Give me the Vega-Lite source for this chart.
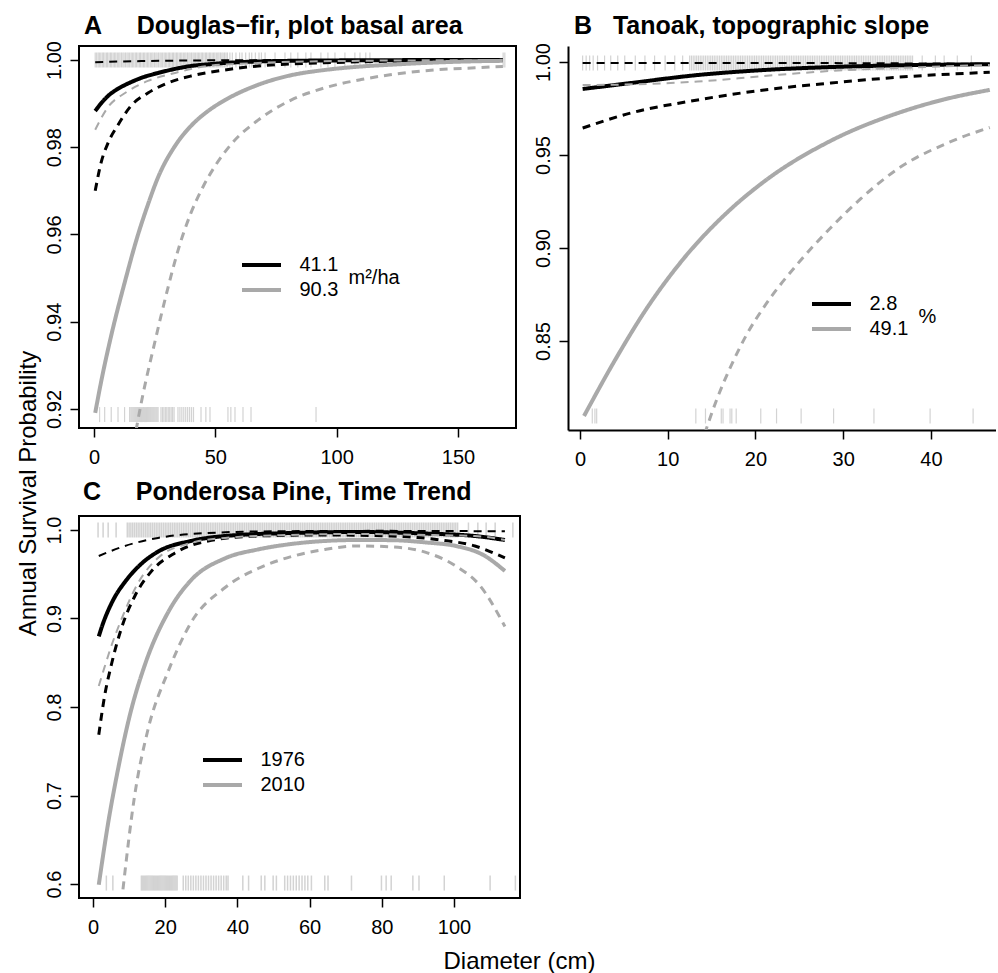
{
"$schema":"https://vega.github.io/schema/vega-lite/v6.json",
"background":"white",
"padding":{"left":16,"top":12,"right":0,"bottom":3},
"title":{"text":"Annual Survival Probability","orient":"left","anchor":"middle","fontSize":24,"fontWeight":"normal","offset":-17,"baseline":"alphabetic","color":"black"},
"datasets":{
"Acur":[
{"d":0.5,"p":0.9883,"g":"41.1","s":"est"},{"d":3,"p":0.9901,"g":"41.1","s":"est"},{"d":5.8,"p":0.99175,"g":"41.1","s":"est"},{"d":9,"p":0.9931,"g":"41.1","s":"est"},{"d":12.8,"p":0.99427,"g":"41.1","s":"est"},{"d":16,"p":0.9951,"g":"41.1","s":"est"},{"d":19.4,"p":0.99587,"g":"41.1","s":"est"},{"d":26.4,"p":0.99702,"g":"41.1","s":"est"},{"d":33,"p":0.9979,"g":"41.1","s":"est"},{"d":40,"p":0.99862,"g":"41.1","s":"est"},{"d":47,"p":0.999,"g":"41.1","s":"est"},{"d":54,"p":0.99931,"g":"41.1","s":"est"},{"d":67.6,"p":0.99965,"g":"41.1","s":"est"},{"d":81,"p":0.9998,"g":"41.1","s":"est"},{"d":95,"p":0.99988,"g":"41.1","s":"est"},{"d":120,"p":0.99995,"g":"41.1","s":"est"},{"d":145,"p":0.99998,"g":"41.1","s":"est"},{"d":168.5,"p":0.99999,"g":"41.1","s":"est"},
{"d":0.5,"p":0.97,"g":"41.1","s":"lo"},{"d":2.9,"p":0.9764,"g":"41.1","s":"lo"},{"d":5.8,"p":0.981,"g":"41.1","s":"lo"},{"d":9.9,"p":0.9851,"g":"41.1","s":"lo"},{"d":15.2,"p":0.98945,"g":"41.1","s":"lo"},{"d":22.2,"p":0.99243,"g":"41.1","s":"lo"},{"d":30.5,"p":0.99473,"g":"41.1","s":"lo"},{"d":40,"p":0.99633,"g":"41.1","s":"lo"},{"d":54,"p":0.99771,"g":"41.1","s":"lo"},{"d":67.6,"p":0.99862,"g":"41.1","s":"lo"},{"d":81,"p":0.9991,"g":"41.1","s":"lo"},{"d":95,"p":0.99935,"g":"41.1","s":"lo"},{"d":120,"p":0.9997,"g":"41.1","s":"lo"},{"d":145,"p":0.99985,"g":"41.1","s":"lo"},{"d":168.5,"p":0.9999,"g":"41.1","s":"lo"},
{"d":0.5,"p":0.9995,"g":"41.1","s":"hi"},{"d":10,"p":0.99965,"g":"41.1","s":"hi"},{"d":20,"p":0.99975,"g":"41.1","s":"hi"},{"d":35,"p":0.99985,"g":"41.1","s":"hi"},{"d":50,"p":0.99992,"g":"41.1","s":"hi"},{"d":80,"p":0.99997,"g":"41.1","s":"hi"},{"d":120,"p":0.99999,"g":"41.1","s":"hi"},{"d":168.5,"p":1,"g":"41.1","s":"hi"},
{"d":0.5,"p":0.9191,"g":"90.3","s":"est"},{"d":3,"p":0.9264,"g":"90.3","s":"est"},{"d":7,"p":0.9366,"g":"90.3","s":"est"},{"d":12.8,"p":0.9493,"g":"90.3","s":"est"},{"d":18,"p":0.9597,"g":"90.3","s":"est"},{"d":22.2,"p":0.9668,"g":"90.3","s":"est"},{"d":26.4,"p":0.9731,"g":"90.3","s":"est"},{"d":33.4,"p":0.9803,"g":"90.3","s":"est"},{"d":40,"p":0.9849,"g":"90.3","s":"est"},{"d":47,"p":0.9883,"g":"90.3","s":"est"},{"d":54,"p":0.9908,"g":"90.3","s":"est"},{"d":67.6,"p":0.9943,"g":"90.3","s":"est"},{"d":81.2,"p":0.9965,"g":"90.3","s":"est"},{"d":95,"p":0.9977,"g":"90.3","s":"est"},{"d":110,"p":0.9985,"g":"90.3","s":"est"},{"d":122,"p":0.9989,"g":"90.3","s":"est"},{"d":140,"p":0.9994,"g":"90.3","s":"est"},{"d":157,"p":0.9997,"g":"90.3","s":"est"},{"d":168.5,"p":0.9998,"g":"90.3","s":"est"},
{"d":17.3,"p":0.915,"g":"90.3","s":"lo"},{"d":19.4,"p":0.9212,"g":"90.3","s":"lo"},{"d":25.1,"p":0.9354,"g":"90.3","s":"lo"},{"d":30.5,"p":0.9478,"g":"90.3","s":"lo"},{"d":34.6,"p":0.9563,"g":"90.3","s":"lo"},{"d":40,"p":0.965,"g":"90.3","s":"lo"},{"d":45,"p":0.971,"g":"90.3","s":"lo"},{"d":49.9,"p":0.9757,"g":"90.3","s":"lo"},{"d":56.4,"p":0.9806,"g":"90.3","s":"lo"},{"d":67.6,"p":0.9862,"g":"90.3","s":"lo"},{"d":81.2,"p":0.9908,"g":"90.3","s":"lo"},{"d":95,"p":0.9936,"g":"90.3","s":"lo"},{"d":110,"p":0.9955,"g":"90.3","s":"lo"},{"d":122,"p":0.9966,"g":"90.3","s":"lo"},{"d":140,"p":0.9977,"g":"90.3","s":"lo"},{"d":157,"p":0.9982,"g":"90.3","s":"lo"},{"d":168.5,"p":0.9985,"g":"90.3","s":"lo"},
{"d":0.5,"p":0.984,"g":"90.3","s":"hi"},{"d":5.8,"p":0.9892,"g":"90.3","s":"hi"},{"d":12.8,"p":0.99243,"g":"90.3","s":"hi"},{"d":22.2,"p":0.99519,"g":"90.3","s":"hi"},{"d":33.4,"p":0.99702,"g":"90.3","s":"hi"},{"d":47,"p":0.99862,"g":"90.3","s":"hi"},{"d":67.6,"p":0.99931,"g":"90.3","s":"hi"},{"d":100,"p":0.99975,"g":"90.3","s":"hi"},{"d":168.5,"p":0.99998,"g":"90.3","s":"hi"}
],
"Arug":[
{"d":0.5,"p":1},{"d":1.1,"p":1},{"d":1.7,"p":1},{"d":2.2,"p":1},{"d":2.8,"p":1},{"d":3.4,"p":1},{"d":3.9,"p":1},{"d":4.5,"p":1},{"d":5.1,"p":1},{"d":5.6,"p":1},{"d":6.2,"p":1},{"d":6.8,"p":1},{"d":7.3,"p":1},{"d":7.9,"p":1},{"d":8.5,"p":1},{"d":9,"p":1},{"d":9.6,"p":1},{"d":10.2,"p":1},{"d":10.7,"p":1},{"d":11.3,"p":1},{"d":11.9,"p":1},{"d":12.4,"p":1},{"d":13,"p":1},{"d":13.6,"p":1},{"d":14.1,"p":1},{"d":14.7,"p":1},{"d":15.3,"p":1},{"d":15.8,"p":1},{"d":16.4,"p":1},{"d":17,"p":1},{"d":17.5,"p":1},{"d":18.1,"p":1},{"d":18.7,"p":1},{"d":19.2,"p":1},{"d":19.8,"p":1},{"d":20.4,"p":1},{"d":20.9,"p":1},{"d":21.5,"p":1},{"d":22.1,"p":1},{"d":22.6,"p":1},{"d":23.2,"p":1},{"d":23.8,"p":1},{"d":24.3,"p":1},{"d":24.9,"p":1},{"d":25.5,"p":1},{"d":26,"p":1},{"d":26.6,"p":1},{"d":27.2,"p":1},{"d":27.7,"p":1},{"d":28.3,"p":1},{"d":28.9,"p":1},{"d":29.4,"p":1},{"d":30,"p":1},{"d":30.6,"p":1},{"d":31.1,"p":1},{"d":31.7,"p":1},{"d":32.3,"p":1},{"d":32.8,"p":1},{"d":33.4,"p":1},{"d":34,"p":1},{"d":34.5,"p":1},{"d":35.1,"p":1},{"d":35.7,"p":1},{"d":36.2,"p":1},{"d":36.8,"p":1},{"d":37.4,"p":1},{"d":37.9,"p":1},{"d":38.5,"p":1},{"d":39.1,"p":1},{"d":39.6,"p":1},{"d":40.2,"p":1},{"d":40.8,"p":1},{"d":41.3,"p":1},{"d":41.9,"p":1},{"d":42.5,"p":1},{"d":43,"p":1},{"d":43.6,"p":1},{"d":44.2,"p":1},{"d":44.7,"p":1},{"d":45.3,"p":1},{"d":45.9,"p":1},{"d":46.4,"p":1},{"d":47,"p":1},{"d":47.6,"p":1},{"d":48.1,"p":1},{"d":48.7,"p":1},{"d":49.3,"p":1},{"d":49.8,"p":1},{"d":50.4,"p":1},{"d":51,"p":1},{"d":51.5,"p":1},{"d":52.1,"p":1},{"d":52.7,"p":1},{"d":53.2,"p":1},{"d":53.8,"p":1},{"d":54.4,"p":1},{"d":55,"p":1},{"d":56,"p":1},{"d":57,"p":1},{"d":58.5,"p":1},{"d":60,"p":1},{"d":61,"p":1},{"d":62.5,"p":1},{"d":64,"p":1},{"d":65,"p":1},{"d":66.5,"p":1},{"d":68,"p":1},{"d":69,"p":1},{"d":70.5,"p":1},{"d":74.6,"p":1},{"d":78.7,"p":1},{"d":81.1,"p":1},{"d":84,"p":1},{"d":87.3,"p":1},{"d":89.4,"p":1},{"d":93.5,"p":1},{"d":96.4,"p":1},{"d":99.3,"p":1},{"d":103.4,"p":1},{"d":107.5,"p":1},{"d":109.6,"p":1},{"d":112,"p":1},{"d":113.7,"p":1},{"d":168.6,"p":1},{"d":169.3,"p":1},
{"d":2.3,"p":0.9187},{"d":4.4,"p":0.9187},{"d":7.1,"p":0.9187},{"d":9.9,"p":0.9187},{"d":12.6,"p":0.9187},{"d":14.7,"p":0.9187},{"d":15.2,"p":0.9187},{"d":15.6,"p":0.9187},{"d":16,"p":0.9187},{"d":16.4,"p":0.9187},{"d":16.8,"p":0.9187},{"d":17.2,"p":0.9187},{"d":17.6,"p":0.9187},{"d":18,"p":0.9187},{"d":18.4,"p":0.9187},{"d":18.8,"p":0.9187},{"d":19.2,"p":0.9187},{"d":19.6,"p":0.9187},{"d":20,"p":0.9187},{"d":20.4,"p":0.9187},{"d":20.8,"p":0.9187},{"d":21.2,"p":0.9187},{"d":21.6,"p":0.9187},{"d":22,"p":0.9187},{"d":22.4,"p":0.9187},{"d":22.8,"p":0.9187},{"d":23.2,"p":0.9187},{"d":23.6,"p":0.9187},{"d":24,"p":0.9187},{"d":24.4,"p":0.9187},{"d":24.8,"p":0.9187},{"d":25.2,"p":0.9187},{"d":25.6,"p":0.9187},{"d":26,"p":0.9187},{"d":26.4,"p":0.9187},{"d":27.6,"p":0.9187},{"d":28.2,"p":0.9187},{"d":28.8,"p":0.9187},{"d":29.4,"p":0.9187},{"d":30,"p":0.9187},{"d":30.6,"p":0.9187},{"d":31.2,"p":0.9187},{"d":31.8,"p":0.9187},{"d":32.4,"p":0.9187},{"d":33,"p":0.9187},{"d":34.6,"p":0.9187},{"d":35.4,"p":0.9187},{"d":36.2,"p":0.9187},{"d":37,"p":0.9187},{"d":37.8,"p":0.9187},{"d":38.6,"p":0.9187},{"d":39.4,"p":0.9187},{"d":40.2,"p":0.9187},{"d":41,"p":0.9187},{"d":44.1,"p":0.9187},{"d":46.1,"p":0.9187},{"d":47.8,"p":0.9187},{"d":55.2,"p":0.9187},{"d":56.4,"p":0.9187},{"d":58.1,"p":0.9187},{"d":61.4,"p":0.9187},{"d":64.7,"p":0.9187},{"d":91.5,"p":0.9187}
],
"Bcur":[
{"d":0.3,"p":0.9855,"g":"2.8","s":"est"},{"d":5.8,"p":0.9887,"g":"2.8","s":"est"},{"d":13.4,"p":0.993,"g":"2.8","s":"est"},{"d":21,"p":0.9957,"g":"2.8","s":"est"},{"d":28.6,"p":0.9973,"g":"2.8","s":"est"},{"d":36.2,"p":0.9982,"g":"2.8","s":"est"},{"d":41.5,"p":0.9986,"g":"2.8","s":"est"},{"d":46.7,"p":0.9988,"g":"2.8","s":"est"},
{"d":0.3,"p":0.9645,"g":"2.8","s":"lo"},{"d":5.8,"p":0.9726,"g":"2.8","s":"lo"},{"d":13.4,"p":0.9796,"g":"2.8","s":"lo"},{"d":21,"p":0.985,"g":"2.8","s":"lo"},{"d":28.6,"p":0.9887,"g":"2.8","s":"lo"},{"d":36.2,"p":0.9918,"g":"2.8","s":"lo"},{"d":46.7,"p":0.9945,"g":"2.8","s":"lo"},
{"d":0.3,"p":0.9995,"g":"2.8","s":"hi"},{"d":20,"p":0.9995,"g":"2.8","s":"hi"},{"d":35,"p":0.9993,"g":"2.8","s":"hi"},{"d":46.7,"p":0.999,"g":"2.8","s":"hi"},
{"d":0.46,"p":0.8097,"g":"49.1","s":"est"},{"d":4,"p":0.8398,"g":"49.1","s":"est"},{"d":7.7,"p":0.8682,"g":"49.1","s":"est"},{"d":11.5,"p":0.8925,"g":"49.1","s":"est"},{"d":17.2,"p":0.921,"g":"49.1","s":"est"},{"d":21,"p":0.9358,"g":"49.1","s":"est"},{"d":28.6,"p":0.9577,"g":"49.1","s":"est"},{"d":36.2,"p":0.9725,"g":"49.1","s":"est"},{"d":41.5,"p":0.9799,"g":"49.1","s":"est"},{"d":46.7,"p":0.985,"g":"49.1","s":"est"},
{"d":14.2,"p":0.8,"g":"49.1","s":"lo"},{"d":15.5,"p":0.8175,"g":"49.1","s":"lo"},{"d":17.2,"p":0.8365,"g":"49.1","s":"lo"},{"d":19,"p":0.8535,"g":"49.1","s":"lo"},{"d":21,"p":0.8685,"g":"49.1","s":"lo"},{"d":24.8,"p":0.8915,"g":"49.1","s":"lo"},{"d":28.6,"p":0.911,"g":"49.1","s":"lo"},{"d":32,"p":0.9265,"g":"49.1","s":"lo"},{"d":36.2,"p":0.9425,"g":"49.1","s":"lo"},{"d":41.9,"p":0.9565,"g":"49.1","s":"lo"},{"d":46.7,"p":0.9648,"g":"49.1","s":"lo"},
{"d":0.3,"p":0.9876,"g":"49.1","s":"hi"},{"d":6,"p":0.988,"g":"49.1","s":"hi"},{"d":13.4,"p":0.9895,"g":"49.1","s":"hi"},{"d":21,"p":0.9925,"g":"49.1","s":"hi"},{"d":28.6,"p":0.9952,"g":"49.1","s":"hi"},{"d":36.2,"p":0.9968,"g":"49.1","s":"hi"},{"d":46.7,"p":0.9984,"g":"49.1","s":"hi"}
],
"Brug":[
{"d":0.3,"p":0.99946},{"d":0.7,"p":0.99946},{"d":1.1,"p":0.99946},{"d":1.5,"p":0.99946},{"d":2,"p":0.99946},{"d":2.8,"p":0.99946},{"d":3.5,"p":0.99946},{"d":4.3,"p":0.99946},{"d":5.1,"p":0.99946},{"d":6.3,"p":0.99946},{"d":7.4,"p":0.99946},{"d":8.5,"p":0.99946},{"d":9.7,"p":0.99946},{"d":10.8,"p":0.99946},{"d":11.7,"p":0.99946},
{"d":12.5,"p":0.99946},{"d":12.7,"p":0.99946},{"d":12.9,"p":0.99946},{"d":13.1,"p":0.99946},{"d":13.3,"p":0.99946},{"d":13.5,"p":0.99946},{"d":13.7,"p":0.99946},{"d":13.9,"p":0.99946},{"d":14.1,"p":0.99946},{"d":14.3,"p":0.99946},{"d":14.5,"p":0.99946},{"d":14.7,"p":0.99946},{"d":14.9,"p":0.99946},{"d":15.1,"p":0.99946},{"d":15.3,"p":0.99946},{"d":15.5,"p":0.99946},{"d":15.7,"p":0.99946},{"d":15.9,"p":0.99946},{"d":16.1,"p":0.99946},{"d":16.3,"p":0.99946},{"d":16.5,"p":0.99946},{"d":16.7,"p":0.99946},{"d":16.9,"p":0.99946},{"d":17.1,"p":0.99946},{"d":17.3,"p":0.99946},{"d":17.5,"p":0.99946},{"d":17.7,"p":0.99946},{"d":17.9,"p":0.99946},{"d":18.1,"p":0.99946},{"d":18.3,"p":0.99946},{"d":18.5,"p":0.99946},{"d":18.7,"p":0.99946},{"d":18.9,"p":0.99946},{"d":19.1,"p":0.99946},{"d":19.3,"p":0.99946},{"d":19.5,"p":0.99946},{"d":19.7,"p":0.99946},{"d":19.9,"p":0.99946},{"d":20.1,"p":0.99946},{"d":20.3,"p":0.99946},{"d":20.5,"p":0.99946},{"d":20.7,"p":0.99946},{"d":20.9,"p":0.99946},{"d":21.1,"p":0.99946},{"d":21.3,"p":0.99946},{"d":21.5,"p":0.99946},{"d":21.7,"p":0.99946},{"d":21.9,"p":0.99946},{"d":22.1,"p":0.99946},{"d":22.3,"p":0.99946},{"d":22.5,"p":0.99946},{"d":22.7,"p":0.99946},{"d":22.9,"p":0.99946},{"d":23.1,"p":0.99946},{"d":23.3,"p":0.99946},{"d":23.5,"p":0.99946},{"d":23.7,"p":0.99946},{"d":23.9,"p":0.99946},{"d":24.1,"p":0.99946},{"d":24.3,"p":0.99946},{"d":24.5,"p":0.99946},{"d":24.7,"p":0.99946},{"d":24.9,"p":0.99946},{"d":25.1,"p":0.99946},{"d":25.3,"p":0.99946},{"d":25.5,"p":0.99946},{"d":25.7,"p":0.99946},{"d":25.9,"p":0.99946},{"d":26.1,"p":0.99946},{"d":26.3,"p":0.99946},{"d":26.5,"p":0.99946},{"d":26.7,"p":0.99946},{"d":26.9,"p":0.99946},{"d":27.1,"p":0.99946},{"d":27.3,"p":0.99946},{"d":27.5,"p":0.99946},{"d":27.7,"p":0.99946},{"d":27.9,"p":0.99946},{"d":28.1,"p":0.99946},{"d":28.3,"p":0.99946},{"d":28.5,"p":0.99946},{"d":28.7,"p":0.99946},{"d":28.9,"p":0.99946},{"d":29.1,"p":0.99946},{"d":29.3,"p":0.99946},{"d":29.5,"p":0.99946},{"d":29.7,"p":0.99946},{"d":29.9,"p":0.99946},{"d":30.1,"p":0.99946},{"d":30.3,"p":0.99946},{"d":30.5,"p":0.99946},{"d":30.7,"p":0.99946},{"d":30.9,"p":0.99946},{"d":31.1,"p":0.99946},{"d":31.3,"p":0.99946},{"d":31.5,"p":0.99946},{"d":31.7,"p":0.99946},{"d":31.9,"p":0.99946},{"d":32.1,"p":0.99946},{"d":32.3,"p":0.99946},{"d":32.5,"p":0.99946},{"d":32.7,"p":0.99946},{"d":32.9,"p":0.99946},{"d":33.1,"p":0.99946},{"d":33.3,"p":0.99946},{"d":33.5,"p":0.99946},{"d":33.7,"p":0.99946},{"d":33.9,"p":0.99946},{"d":34.1,"p":0.99946},{"d":34.3,"p":0.99946},{"d":34.5,"p":0.99946},{"d":34.7,"p":0.99946},{"d":34.9,"p":0.99946},{"d":35.1,"p":0.99946},{"d":35.3,"p":0.99946},{"d":35.5,"p":0.99946},{"d":35.7,"p":0.99946},{"d":35.9,"p":0.99946},{"d":36.1,"p":0.99946},{"d":36.3,"p":0.99946},{"d":36.5,"p":0.99946},{"d":36.7,"p":0.99946},{"d":36.9,"p":0.99946},{"d":37.1,"p":0.99946},{"d":37.3,"p":0.99946},{"d":37.5,"p":0.99946},{"d":37.7,"p":0.99946},{"d":37.9,"p":0.99946},
{"d":39,"p":0.99946},{"d":40.5,"p":0.99946},{"d":41.5,"p":0.99946},{"d":43,"p":0.99946},{"d":44.6,"p":0.99946},
{"d":1.4,"p":0.8097},{"d":1.7,"p":0.8097},{"d":1.9,"p":0.8097},{"d":13.2,"p":0.8097},{"d":14.3,"p":0.8097},{"d":16.1,"p":0.8097},{"d":16.3,"p":0.8097},{"d":17.1,"p":0.8097},{"d":17.3,"p":0.8097},{"d":17.8,"p":0.8097},{"d":20.6,"p":0.8097},{"d":22.4,"p":0.8097},{"d":25.2,"p":0.8097},{"d":28.9,"p":0.8097},{"d":33.5,"p":0.8097},{"d":39.9,"p":0.8097},{"d":44.8,"p":0.8097}
],
"Ccur":[
{"d":1.6,"p":0.8799,"g":"1976","s":"est"},{"d":3,"p":0.897,"g":"1976","s":"est"},{"d":4.2,"p":0.909,"g":"1976","s":"est"},{"d":6,"p":0.924,"g":"1976","s":"est"},{"d":8.8,"p":0.941,"g":"1976","s":"est"},{"d":13.3,"p":0.9615,"g":"1976","s":"est"},{"d":18,"p":0.9755,"g":"1976","s":"est"},{"d":27.1,"p":0.9876,"g":"1976","s":"est"},{"d":36.6,"p":0.9932,"g":"1976","s":"est"},{"d":54.8,"p":0.9966,"g":"1976","s":"est"},{"d":73.4,"p":0.9977,"g":"1976","s":"est"},{"d":92,"p":0.996,"g":"1976","s":"est"},{"d":105.8,"p":0.9932,"g":"1976","s":"est"},{"d":114.1,"p":0.9887,"g":"1976","s":"est"},
{"d":1.6,"p":0.7687,"g":"1976","s":"lo"},{"d":3.2,"p":0.8121,"g":"1976","s":"lo"},{"d":5.1,"p":0.848,"g":"1976","s":"lo"},{"d":7.8,"p":0.888,"g":"1976","s":"lo"},{"d":11.6,"p":0.9254,"g":"1976","s":"lo"},{"d":16.1,"p":0.953,"g":"1976","s":"lo"},{"d":22.7,"p":0.974,"g":"1976","s":"lo"},{"d":31.9,"p":0.9876,"g":"1976","s":"lo"},{"d":45.7,"p":0.9932,"g":"1976","s":"lo"},{"d":64.3,"p":0.9944,"g":"1976","s":"lo"},{"d":82.5,"p":0.9932,"g":"1976","s":"lo"},{"d":96.4,"p":0.9887,"g":"1976","s":"lo"},{"d":105.8,"p":0.9819,"g":"1976","s":"lo"},{"d":114.1,"p":0.9684,"g":"1976","s":"lo"},
{"d":1.6,"p":0.9706,"g":"1976","s":"hi"},{"d":8.8,"p":0.9819,"g":"1976","s":"hi"},{"d":18,"p":0.991,"g":"1976","s":"hi"},{"d":31.9,"p":0.9966,"g":"1976","s":"hi"},{"d":50,"p":0.9985,"g":"1976","s":"hi"},{"d":80,"p":0.999,"g":"1976","s":"hi"},{"d":100,"p":0.9988,"g":"1976","s":"hi"},{"d":114.1,"p":0.9985,"g":"1976","s":"hi"},
{"d":1.6,"p":0.5992,"g":"2010","s":"est"},{"d":4.2,"p":0.669,"g":"2010","s":"est"},{"d":6.9,"p":0.729,"g":"2010","s":"est"},{"d":10.1,"p":0.789,"g":"2010","s":"est"},{"d":14.4,"p":0.848,"g":"2010","s":"est"},{"d":20.8,"p":0.907,"g":"2010","s":"est"},{"d":27.1,"p":0.943,"g":"2010","s":"est"},{"d":36.6,"p":0.968,"g":"2010","s":"est"},{"d":45.7,"p":0.978,"g":"2010","s":"est"},{"d":55,"p":0.9842,"g":"2010","s":"est"},{"d":64.3,"p":0.9876,"g":"2010","s":"est"},{"d":73.4,"p":0.9887,"g":"2010","s":"est"},{"d":82.5,"p":0.9885,"g":"2010","s":"est"},{"d":92,"p":0.986,"g":"2010","s":"est"},{"d":101,"p":0.9815,"g":"2010","s":"est"},{"d":108,"p":0.972,"g":"2010","s":"est"},{"d":114.1,"p":0.9537,"g":"2010","s":"est"},
{"d":8.3,"p":0.594,"g":"2010","s":"lo"},{"d":11.5,"p":0.699,"g":"2010","s":"lo"},{"d":15.2,"p":0.774,"g":"2010","s":"lo"},{"d":20.8,"p":0.84,"g":"2010","s":"lo"},{"d":27.1,"p":0.895,"g":"2010","s":"lo"},{"d":36.6,"p":0.935,"g":"2010","s":"lo"},{"d":45.7,"p":0.9565,"g":"2010","s":"lo"},{"d":55,"p":0.97,"g":"2010","s":"lo"},{"d":64.3,"p":0.978,"g":"2010","s":"lo"},{"d":73.4,"p":0.982,"g":"2010","s":"lo"},{"d":82.5,"p":0.981,"g":"2010","s":"lo"},{"d":92,"p":0.975,"g":"2010","s":"lo"},{"d":101,"p":0.958,"g":"2010","s":"lo"},{"d":107,"p":0.938,"g":"2010","s":"lo"},{"d":114.1,"p":0.891,"g":"2010","s":"lo"},
{"d":1.6,"p":0.8237,"g":"2010","s":"hi"},{"d":3.2,"p":0.845,"g":"2010","s":"hi"},{"d":5,"p":0.868,"g":"2010","s":"hi"},{"d":7.8,"p":0.8983,"g":"2010","s":"hi"},{"d":12.5,"p":0.9401,"g":"2010","s":"hi"},{"d":18,"p":0.9684,"g":"2010","s":"hi"},{"d":27.1,"p":0.9853,"g":"2010","s":"hi"},{"d":36.6,"p":0.991,"g":"2010","s":"hi"},{"d":54.8,"p":0.9944,"g":"2010","s":"hi"},{"d":73.4,"p":0.9955,"g":"2010","s":"hi"},{"d":92,"p":0.9944,"g":"2010","s":"hi"},{"d":105.8,"p":0.9932,"g":"2010","s":"hi"},{"d":114.1,"p":0.9887,"g":"2010","s":"hi"}
],
"Crug":[
{"d":1.4,"p":1},{"d":2.8,"p":1},{"d":4.2,"p":1},{"d":6.4,"p":1},
{"d":9.5,"p":1},{"d":10,"p":1},{"d":10.5,"p":1},{"d":11,"p":1},{"d":11.5,"p":1},{"d":12,"p":1},{"d":12.5,"p":1},{"d":13,"p":1},{"d":13.5,"p":1},{"d":14,"p":1},{"d":14.5,"p":1},{"d":15,"p":1},{"d":15.5,"p":1},{"d":16,"p":1},{"d":16.5,"p":1},{"d":17,"p":1},{"d":17.5,"p":1},{"d":18,"p":1},{"d":18.5,"p":1},{"d":19,"p":1},{"d":19.5,"p":1},{"d":20,"p":1},{"d":20.5,"p":1},{"d":21,"p":1},{"d":21.5,"p":1},{"d":22,"p":1},{"d":22.5,"p":1},{"d":23,"p":1},{"d":23.5,"p":1},{"d":24,"p":1},{"d":24.5,"p":1},{"d":25,"p":1},{"d":25.5,"p":1},{"d":26,"p":1},{"d":26.5,"p":1},{"d":27,"p":1},{"d":27.5,"p":1},{"d":28,"p":1},{"d":28.5,"p":1},{"d":29,"p":1},{"d":29.5,"p":1},{"d":30,"p":1},{"d":30.5,"p":1},{"d":31,"p":1},{"d":31.5,"p":1},{"d":32,"p":1},{"d":32.5,"p":1},{"d":33,"p":1},{"d":33.5,"p":1},{"d":34,"p":1},{"d":34.5,"p":1},{"d":35,"p":1},{"d":35.5,"p":1},{"d":36,"p":1},{"d":36.5,"p":1},{"d":37,"p":1},{"d":37.5,"p":1},{"d":38,"p":1},{"d":38.5,"p":1},{"d":39,"p":1},{"d":39.5,"p":1},{"d":40,"p":1},{"d":40.5,"p":1},{"d":41,"p":1},{"d":41.5,"p":1},{"d":42,"p":1},{"d":42.5,"p":1},{"d":43,"p":1},{"d":43.5,"p":1},{"d":44,"p":1},{"d":44.5,"p":1},{"d":45,"p":1},{"d":45.5,"p":1},{"d":46,"p":1},{"d":46.5,"p":1},{"d":47,"p":1},{"d":47.5,"p":1},{"d":48,"p":1},{"d":48.5,"p":1},{"d":49,"p":1},{"d":49.5,"p":1},{"d":50,"p":1},{"d":50.5,"p":1},{"d":51,"p":1},{"d":51.5,"p":1},{"d":52,"p":1},{"d":52.5,"p":1},{"d":53,"p":1},{"d":53.5,"p":1},{"d":54,"p":1},{"d":54.5,"p":1},{"d":55,"p":1},{"d":55.5,"p":1},{"d":56,"p":1},{"d":56.5,"p":1},{"d":57,"p":1},{"d":57.5,"p":1},{"d":58,"p":1},{"d":58.5,"p":1},{"d":59,"p":1},{"d":59.5,"p":1},{"d":60,"p":1},{"d":60.5,"p":1},{"d":61,"p":1},{"d":61.5,"p":1},{"d":62,"p":1},{"d":62.5,"p":1},{"d":63,"p":1},{"d":63.5,"p":1},{"d":64,"p":1},{"d":64.5,"p":1},{"d":65,"p":1},{"d":65.5,"p":1},{"d":66,"p":1},{"d":66.5,"p":1},{"d":67,"p":1},{"d":67.5,"p":1},{"d":68,"p":1},{"d":68.5,"p":1},{"d":69,"p":1},{"d":69.5,"p":1},{"d":70,"p":1},{"d":70.5,"p":1},{"d":71,"p":1},{"d":71.5,"p":1},{"d":72,"p":1},{"d":72.5,"p":1},{"d":73,"p":1},{"d":73.5,"p":1},{"d":74,"p":1},{"d":74.5,"p":1},{"d":75,"p":1},{"d":75.5,"p":1},{"d":76,"p":1},{"d":76.5,"p":1},{"d":77,"p":1},{"d":77.5,"p":1},{"d":78,"p":1},{"d":78.5,"p":1},{"d":79,"p":1},{"d":79.5,"p":1},{"d":80,"p":1},{"d":80.5,"p":1},{"d":81,"p":1},{"d":81.5,"p":1},{"d":82,"p":1},{"d":82.5,"p":1},{"d":83,"p":1},{"d":83.5,"p":1},{"d":84,"p":1},{"d":84.5,"p":1},{"d":85,"p":1},{"d":85.5,"p":1},{"d":86,"p":1},{"d":86.5,"p":1},{"d":87,"p":1},{"d":87.5,"p":1},{"d":88,"p":1},{"d":88.5,"p":1},{"d":89,"p":1},{"d":89.5,"p":1},{"d":90,"p":1},{"d":90.5,"p":1},{"d":91,"p":1},{"d":91.5,"p":1},{"d":92,"p":1},{"d":92.5,"p":1},{"d":93,"p":1},{"d":93.5,"p":1},{"d":94,"p":1},{"d":94.5,"p":1},{"d":95,"p":1},{"d":95.5,"p":1},{"d":96,"p":1},{"d":96.5,"p":1},{"d":97,"p":1},{"d":97.5,"p":1},{"d":98,"p":1},{"d":98.5,"p":1},{"d":99,"p":1},{"d":99.5,"p":1},{"d":100,"p":1},{"d":100.5,"p":1},{"d":101,"p":1},
{"d":104,"p":1},{"d":106.6,"p":1},{"d":108.9,"p":1},{"d":111.4,"p":1},{"d":116.3,"p":1},
{"d":3.7,"p":0.6011},{"d":5.5,"p":0.6011},{"d":13.4,"p":0.6011},{"d":13.7,"p":0.6011},{"d":14,"p":0.6011},{"d":14.3,"p":0.6011},{"d":14.6,"p":0.6011},{"d":14.9,"p":0.6011},{"d":15.2,"p":0.6011},{"d":15.5,"p":0.6011},{"d":15.8,"p":0.6011},{"d":16.1,"p":0.6011},{"d":16.4,"p":0.6011},{"d":16.7,"p":0.6011},{"d":17,"p":0.6011},{"d":17.3,"p":0.6011},{"d":17.6,"p":0.6011},{"d":17.9,"p":0.6011},{"d":18.2,"p":0.6011},{"d":18.5,"p":0.6011},{"d":18.8,"p":0.6011},{"d":19.1,"p":0.6011},{"d":19.4,"p":0.6011},{"d":19.7,"p":0.6011},{"d":20,"p":0.6011},{"d":20.3,"p":0.6011},{"d":20.6,"p":0.6011},{"d":20.9,"p":0.6011},{"d":21.2,"p":0.6011},{"d":21.5,"p":0.6011},{"d":21.8,"p":0.6011},{"d":22.1,"p":0.6011},{"d":22.4,"p":0.6011},{"d":22.7,"p":0.6011},{"d":23,"p":0.6011},{"d":23.3,"p":0.6011},{"d":25,"p":0.6011},{"d":25.7,"p":0.6011},{"d":26.4,"p":0.6011},{"d":27.1,"p":0.6011},{"d":27.8,"p":0.6011},{"d":28.5,"p":0.6011},{"d":29.2,"p":0.6011},{"d":29.9,"p":0.6011},{"d":30.6,"p":0.6011},{"d":31.3,"p":0.6011},{"d":32,"p":0.6011},{"d":32.7,"p":0.6011},{"d":33.4,"p":0.6011},{"d":34.1,"p":0.6011},{"d":34.8,"p":0.6011},{"d":35.5,"p":0.6011},{"d":36.2,"p":0.6011},{"d":36.9,"p":0.6011},{"d":37.4,"p":0.6011},{"d":41.5,"p":0.6011},{"d":43.1,"p":0.6011},{"d":46.6,"p":0.6011},{"d":47.6,"p":0.6011},{"d":49.9,"p":0.6011},{"d":50.8,"p":0.6011},{"d":53.1,"p":0.6011},{"d":53.9,"p":0.6011},{"d":54.7,"p":0.6011},{"d":55.5,"p":0.6011},{"d":56.3,"p":0.6011},{"d":57.1,"p":0.6011},{"d":57.9,"p":0.6011},{"d":58.7,"p":0.6011},{"d":59.5,"p":0.6011},{"d":60.5,"p":0.6011},{"d":64.2,"p":0.6011},{"d":65.1,"p":0.6011},{"d":71.6,"p":0.6011},{"d":79.9,"p":0.6011},{"d":81.2,"p":0.6011},{"d":82.6,"p":0.6011},{"d":88.6,"p":0.6011},{"d":90.3,"p":0.6011},{"d":97.3,"p":0.6011},{"d":110,"p":0.6011},{"d":117,"p":0.6011}
]
},
"concat":[
{
"width":437,"height":382,
"title":{"text":"A\u00a0\u00a0\u00a0\u00a0\u00a0Douglas−fir, plot basal area","anchor":"start","frame":"group","dx":5,"offset":-18.5,"baseline":"alphabetic"},
"encoding":{
"x":{"field":"d","type":"quantitative","title":null,"scale":{"domain":[-6.18,173.9],"nice":false,"zero":false},"axis":{"values":[0,50,100,150]}},
"y":{"field":"p","type":"quantitative","title":null,"scale":{"domain":[0.91563,1.0032],"nice":false,"zero":false},"axis":{"values":[0.92,0.94,0.96,0.98,1.0],"format":".2f"}}
},
"layer":[
{"data":{"name":"Arug"},"mark":{"type":"tick","orient":"vertical","size":15,"thickness":1.2,"color":"#d3d3d3","opacity":1}},
{"data":{"name":"Acur"},"mark":{"type":"line","clip":true,"interpolate":"monotone"},
"encoding":{
"color":{"field":"g","type":"nominal","scale":{"domain":["41.1","90.3"],"range":["#000000","#a9a9a9"]},"legend":{"title":"m²/ha","legendX":172.5,"legendY":209}},
"strokeDash":{"field":"s","type":"nominal","scale":{"domain":["est","lo","hi"],"range":[[1,0],[8,6],[8,6]]},"legend":null},
"strokeWidth":{"field":"s","type":"ordinal","scale":{"domain":["est","lo","hi"],"range":[4,2,2]},"legend":null}
}}
]
},
{
"width":428,"height":384,
"view":{"stroke":null},
"title":{"text":"B\u00a0\u00a0\u00a0Tanoak, topographic slope","anchor":"start","frame":"group","dx":6,"offset":-16.5,"baseline":"alphabetic"},
"encoding":{
"x":{"field":"d","type":"quantitative","title":null,"scale":{"domain":[-1.368,47.41],"nice":false,"zero":false},"axis":{"values":[0,10,20,30,40],"domain":true,"domainColor":"black","domainWidth":2}},
"y":{"field":"p","type":"quantitative","title":null,"scale":{"domain":[0.80215,1.00861],"nice":false,"zero":false},"axis":{"values":[0.85,0.9,0.95,1.0],"format":".2f","domain":true,"domainColor":"black","domainWidth":2}}
},
"layer":[
{"data":{"name":"Brug"},"mark":{"type":"tick","orient":"vertical","size":15,"thickness":1.2,"color":"#d3d3d3","opacity":1}},
{"data":{"name":"Bcur"},"mark":{"type":"line","clip":true,"interpolate":"monotone"},
"encoding":{
"color":{"field":"g","type":"nominal","scale":{"domain":["2.8","49.1"],"range":["#000000","#a9a9a9"]},"legend":{"title":"%","legendX":253.5,"legendY":248}},
"strokeDash":{"field":"s","type":"nominal","scale":{"domain":["est","lo","hi"],"range":[[1,0],[8,6],[8,6]]},"legend":null},
"strokeWidth":{"field":"s","type":"ordinal","scale":{"domain":["est","lo","hi"],"range":[4,2,2]},"legend":null}
}},
{"data":{"values":[{}]},"mark":{"type":"rule","color":"black","strokeWidth":2},"encoding":{"y":{"datum":1.00861}}}
]
},
{
"width":441,"height":382,
"title":{"text":"C\u00a0\u00a0\u00a0\u00a0\u00a0Ponderosa Pine, Time Trend","anchor":"start","frame":"group","dx":4,"offset":-9,"baseline":"alphabetic"},
"encoding":{
"x":{"field":"d","type":"quantitative","scale":{"domain":[-3.878,118.28],"nice":false,"zero":false},"axis":{"values":[0,20,40,60,80,100],"title":"Diameter (cm)","titleX":440,"titleY":70,"titleAlign":"center","titleBaseline":"alphabetic"}},
"y":{"field":"p","type":"quantitative","title":null,"scale":{"domain":[0.5842,1.0158],"nice":false,"zero":false},"axis":{"values":[0.6,0.7,0.8,0.9,1.0],"format":".1f"}}
},
"layer":[
{"data":{"name":"Crug"},"mark":{"type":"tick","orient":"vertical","size":15,"thickness":1.5,"color":"#d3d3d3","opacity":1}},
{"data":{"name":"Ccur"},"mark":{"type":"line","clip":true,"interpolate":"monotone"},
"encoding":{
"color":{"field":"g","type":"nominal","scale":{"domain":["1976","2010"],"range":["#000000","#a9a9a9"]},"legend":{"title":null,"legendX":133.5,"legendY":234}},
"strokeDash":{"field":"s","type":"nominal","scale":{"domain":["est","lo","hi"],"range":[[1,0],[8,6],[8,6]]},"legend":null},
"strokeWidth":{"field":"s","type":"ordinal","scale":{"domain":["est","lo","hi"],"range":[4,2,2]},"legend":null}
}}
]
}
],
"columns":2,
"spacing":{"row":86,"column":48},
"bounds":"flush",
"resolve":{"scale":{"x":"independent","y":"independent","color":"independent","strokeDash":"independent","strokeWidth":"independent"}},
"config":{
"font":"Liberation Sans",
"view":{"stroke":"black","strokeWidth":2},
"axis":{"grid":false,"domain":false,"ticks":true,"tickColor":"black","tickSize":9,"tickWidth":1.5,"labelFont":"Liberation Sans","labelFontSize":20,"labelColor":"black","labelPadding":10,"labelFlush":false,"labelOverlap":false,"titleFont":"Liberation Sans","titleFontSize":24,"titleFontWeight":"normal","titleColor":"black"},
"axisY":{"labelAngle":-90,"labelAlign":"center","labelBaseline":"alphabetic"},
"title":{"font":"Liberation Sans","fontSize":25,"fontWeight":"bold","color":"black"},
"legend":{"orient":"none","symbolType":"M-3,0H3","symbolSize":169,"symbolStrokeWidth":4,"labelFont":"Liberation Sans","labelFontSize":20,"labelColor":"black","labelOffset":28,"rowPadding":5,"padding":0,"titleFont":"Liberation Sans","titleFontSize":20,"titleFontWeight":"normal","titleColor":"black","titleOrient":"right","titlePadding":10,"titleAnchor":"middle","titleBaseline":"middle","labelLimit":300}
}
}
